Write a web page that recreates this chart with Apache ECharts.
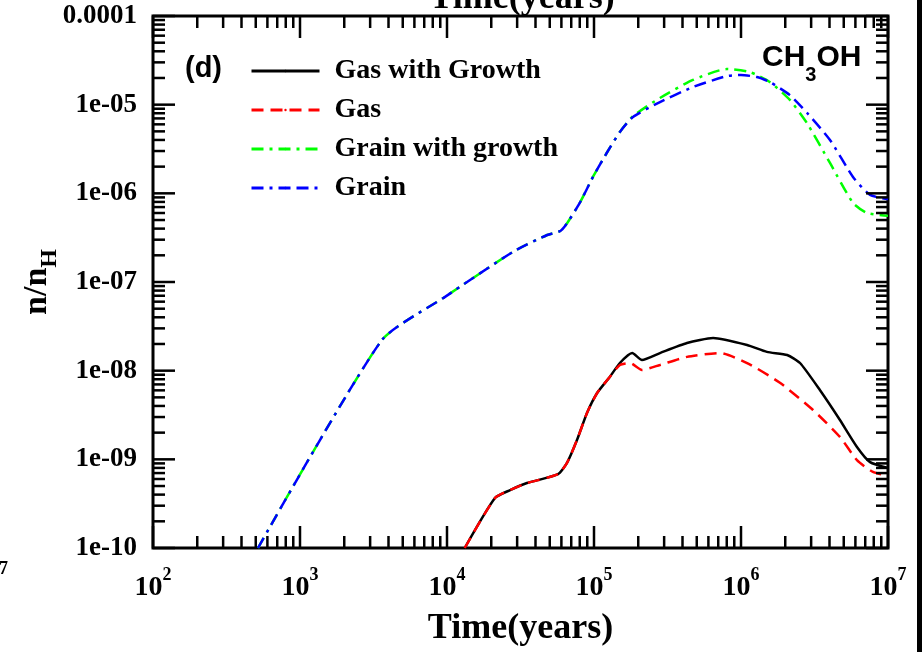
<!DOCTYPE html>
<html>
<head>
<meta charset="utf-8">
<script src="https://cdn.jsdelivr.net/npm/echarts@6/dist/echarts.min.js"></script>
<style>
html,body{margin:0;padding:0;background:#fff;}
#chart{width:922px;height:652px;}
</style>
</head>
<body>
<div id="chart"></div>
<script>
// ---- data ----
const seriesNames = ['Gas with Growth', 'Gas', 'Grain with growth', 'Grain'];

const gasGrowthT = [1.32e4, 2.12e4, 2.69e4, 3.5e4, 5.69e4, 6.55e4, 7.66e4, 8.96e4, 1.05e5, 1.28e5, 1.5e5, 1.82e5, 2.12e5, 2.81e5, 4.29e5, 6.46e5, 1.1e6, 1.5e6, 2.06e6, 2.52e6, 3.44e6, 4.71e6, 6.15e6, 7.55e6, 1e7];
const gasGrowthN = [1e-10, 3.66e-10, 4.5e-10, 5.4e-10, 6.8e-10, 9.1e-10, 1.65e-9, 3.33e-9, 5.6e-9, 8.5e-9, 1.22e-8, 1.58e-8, 1.32e-8, 1.58e-8, 2.05e-8, 2.34e-8, 1.95e-8, 1.63e-8, 1.5e-8, 1.22e-8, 6.05e-9, 2.78e-9, 1.38e-9, 9.3e-10, 8.0e-10];

const gasT = [1.32e4, 2.12e4, 2.69e4, 3.5e4, 5.69e4, 6.55e4, 7.66e4, 8.96e4, 1.05e5, 1.28e5, 1.5e5, 1.76e5, 2.12e5, 2.81e5, 4.29e5, 7.2e5, 1.1e6, 1.84e6, 3.09e6, 4.71e6, 6.15e6, 7.9e6, 1e7];
const gasN = [1e-10, 3.66e-10, 4.5e-10, 5.4e-10, 6.8e-10, 9.1e-10, 1.65e-9, 3.33e-9, 5.6e-9, 8.5e-9, 1.16e-8, 1.22e-8, 1.02e-8, 1.16e-8, 1.43e-8, 1.58e-8, 1.22e-8, 7.3e-9, 3.6e-9, 1.79e-9, 9.8e-10, 7.2e-10, 6.5e-10];

const grainGrowthT = [518, 3610, 9.7e3, 2.8e4, 4.8e4, 5.9e4, 6.5e4, 8.0e4, 9.84e4, 1.22e5, 1.5e5, 1.84e5, 2.81e5, 4.71e5, 8.0e5, 1.15e6, 1.57e6, 2.15e6, 2.81e6, 4.03e6, 5.78e6, 7.2e6, 1e7];
const grainGrowthN = [1e-10, 2.22e-8, 6.8e-8, 2.18e-7, 3.39e-7, 3.76e-7, 4.5e-7, 7.8e-7, 1.53e-6, 2.85e-6, 4.92e-6, 7.4e-6, 1.19e-5, 1.9e-5, 2.52e-5, 2.33e-5, 1.8e-5, 1.13e-5, 6.2e-6, 2.2e-6, 7.8e-7, 6.0e-7, 5.6e-7];

const grainT = [518, 3610, 9.7e3, 2.8e4, 4.8e4, 5.9e4, 6.5e4, 8.0e4, 9.84e4, 1.22e5, 1.5e5, 1.84e5, 2.81e5, 4.71e5, 8.0e5, 1.0e6, 1.28e6, 1.57e6, 2.15e6, 2.81e6, 4.03e6, 5.78e6, 7.55e6, 1e7];
const grainN = [1e-10, 2.22e-8, 6.8e-8, 2.18e-7, 3.39e-7, 3.76e-7, 4.5e-7, 7.8e-7, 1.53e-6, 2.85e-6, 4.92e-6, 7.26e-6, 1.07e-5, 1.58e-5, 2.1e-5, 2.16e-5, 2.05e-5, 1.8e-5, 1.28e-5, 8.1e-6, 4.0e-6, 1.53e-6, 9.6e-7, 8.6e-7];

const xTickExponents = ['2', '3', '4', '5', '6', '7'];
const yTickLabels = ['1e-10', '1e-09', '1e-08', '1e-07', '1e-06', '1e-05', '0.0001'];

const X_MIN = 1e2, X_MAX = 1e7, Y_MIN = 1e-10, Y_MAX = 1e-4;

// tick positions for hand-drawn inward ticks (major + minor)
const tickData = [];
for (let e = 2; e <= 7; e++) {
  tickData.push([Math.pow(10, e), Y_MIN, 1]);
  if (e < 7) for (let m = 2; m <= 9; m++) tickData.push([m * Math.pow(10, e), Y_MIN, 0]);
}
for (let e = -10; e <= -4; e++) {
  tickData.push([X_MIN, Math.pow(10, e), 3]);
  if (e < -4) for (let m = 2; m <= 9; m++) tickData.push([X_MIN, m * Math.pow(10, e), 2]);
}

const zip = (a, b) => a.map((v, i) => [v, b[i]]);

const SERIF = '"Liberation Serif", "Times New Roman", serif';
const SANS = '"Liberation Sans", Arial, sans-serif';

const chart = echarts.init(document.getElementById('chart'), null, {renderer: 'canvas'});

const lineBase = {type: 'line', showSymbol: false, symbol: 'none', smooth: 0.2, clip: true};

chart.setOption({
  animation: false,
  backgroundColor: '#fff',
  grid: {left: 153, right: 34, top: 16, bottom: 104, show: true, borderColor: '#000', borderWidth: 3, containLabel: false, outerBoundsMode: 'none'},
  legend: {
    orient: 'vertical', left: 250, top: 57, padding: 0, itemWidth: 68, itemHeight: 3, itemGap: 11,
    selectedMode: false,
    data: seriesNames,
    lineStyle: {width: 3},
    textStyle: {fontFamily: SERIF, fontWeight: 'bold', fontSize: 28, color: '#000', lineHeight: 28, padding: [0, 0, 0, 10]}
  },
  xAxis: {
    type: 'log', logBase: 10, min: X_MIN, max: X_MAX, splitNumber: 5,
    axisLine: {show: false}, axisTick: {show: false}, splitLine: {show: false},
    axisLabel: {
      margin: 18, color: '#000',
      formatter: v => '{b|10}{s|' + xTickExponents[Math.round(Math.log10(v)) - 2] + '}',
      rich: {
        b: {fontFamily: SERIF, fontWeight: 'bold', fontSize: 28, lineHeight: 28, verticalAlign: 'top', padding: [8, 0, 0, 0], color: '#000'},
        s: {fontFamily: SERIF, fontWeight: 'bold', fontSize: 18, lineHeight: 18, verticalAlign: 'top', color: '#000'}
      }
    },
    name: 'Time(years)', nameLocation: 'middle', nameGap: 63,
    nameTextStyle: {fontFamily: SERIF, fontWeight: 'bold', fontSize: 36, color: '#000'}
  },
  yAxis: {
    type: 'log', logBase: 10, min: Y_MIN, max: Y_MAX, splitNumber: 6,
    axisLine: {show: false}, axisTick: {show: false}, splitLine: {show: false},
    axisLabel: {
      margin: 16, color: '#000', fontFamily: SERIF, fontWeight: 'bold', fontSize: 27,
      formatter: v => yTickLabels[Math.round(Math.log10(v)) + 10]
    },
    name: '{a|n/n}{b|H}', nameLocation: 'middle', nameGap: 99, nameRotate: 90, nameMoveOverlap: false,
    nameTextStyle: {
      rich: {
        a: {fontFamily: SERIF, fontWeight: 'bold', fontSize: 34, lineHeight: 34, verticalAlign: 'top', color: '#000'},
        b: {fontFamily: SERIF, fontWeight: 'bold', fontSize: 24, lineHeight: 24, verticalAlign: 'top', padding: [18, 0, 0, 0], color: '#000'}
      }
    }
  },
  series: [
    Object.assign({}, lineBase, {name: seriesNames[0], data: zip(gasGrowthT, gasGrowthN), z: 3,
      lineStyle: {color: '#000000', width: 2.5, type: 'solid'}, itemStyle: {color: '#000000'}}),
    Object.assign({}, lineBase, {name: seriesNames[1], data: zip(gasT, gasN), z: 4,
      lineStyle: {color: '#ff0000', width: 2.5, type: [12, 7]}, itemStyle: {color: '#ff0000'}}),
    Object.assign({}, lineBase, {name: seriesNames[2], data: zip(grainGrowthT, grainGrowthN), z: 5,
      lineStyle: {color: '#00ff00', width: 2.5, type: [12, 6, 3, 6]}, itemStyle: {color: '#00ff00'}}),
    Object.assign({}, lineBase, {name: seriesNames[3], data: zip(grainT, grainN), z: 6,
      lineStyle: {color: '#0000ff', width: 2.5, type: [12, 6, 3, 6, 12, 6]}, itemStyle: {color: '#0000ff'}}),
    {
      type: 'custom', name: 'ticks', silent: true, z: 10, clip: false,
      data: tickData,
      renderItem: (params, api) => {
        const kind = api.value(2);
        const st = {stroke: '#000', lineWidth: 2.5};
        if (kind <= 1) {
          const v = api.value(0);
          const len = kind === 1 ? 22 : 12;
          const b = api.coord([v, Y_MIN]);
          const t = api.coord([v, Y_MAX]);
          return {type: 'group', children: [
            {type: 'line', shape: {x1: b[0], y1: b[1], x2: b[0], y2: b[1] - len}, style: st},
            {type: 'line', shape: {x1: t[0], y1: t[1], x2: t[0], y2: t[1] + len}, style: st}
          ]};
        } else {
          const v = api.value(1);
          const len = kind === 3 ? 22 : 12;
          const l = api.coord([X_MIN, v]);
          const r = api.coord([X_MAX, v]);
          return {type: 'group', children: [
            {type: 'line', shape: {x1: l[0], y1: l[1], x2: l[0] + len, y2: l[1]}, style: st},
            {type: 'line', shape: {x1: r[0], y1: r[1], x2: r[0] - len, y2: r[1]}, style: st}
          ]};
        }
      }
    }
  ],
  graphic: [
    {type: 'text', left: 185, top: 54, style: {text: '(d)', fontFamily: SANS, fontWeight: 'bold', fontSize: 29, fill: '#000'}},
    {type: 'text', left: 762, top: 43, style: {
      text: '{a|CH}{b|3}{a|OH}',
      rich: {
        a: {fontFamily: SANS, fontWeight: 'bold', fontSize: 30, lineHeight: 30, verticalAlign: 'top', fill: '#000'},
        b: {fontFamily: SANS, fontWeight: 'bold', fontSize: 20, lineHeight: 20, verticalAlign: 'top', padding: [22, 0, 0, 0], fill: '#000'}
      }}},
    // fragments of neighbouring panels visible in the reference crop
    {type: 'text', x: 522, y: -19, style: {text: 'Time(years)', align: 'center', fontFamily: SERIF, fontWeight: 'bold', fontSize: 36, fill: '#000'}},
    {type: 'text', x: 8, y: 560, style: {text: '7', align: 'right', fontFamily: SERIF, fontWeight: 'bold', fontSize: 18, fill: '#000'}},
    {type: 'rect', shape: {x: 917, y: 0, width: 5, height: 652}, style: {fill: '#000'}}
  ]
});
</script>
</body>
</html>
